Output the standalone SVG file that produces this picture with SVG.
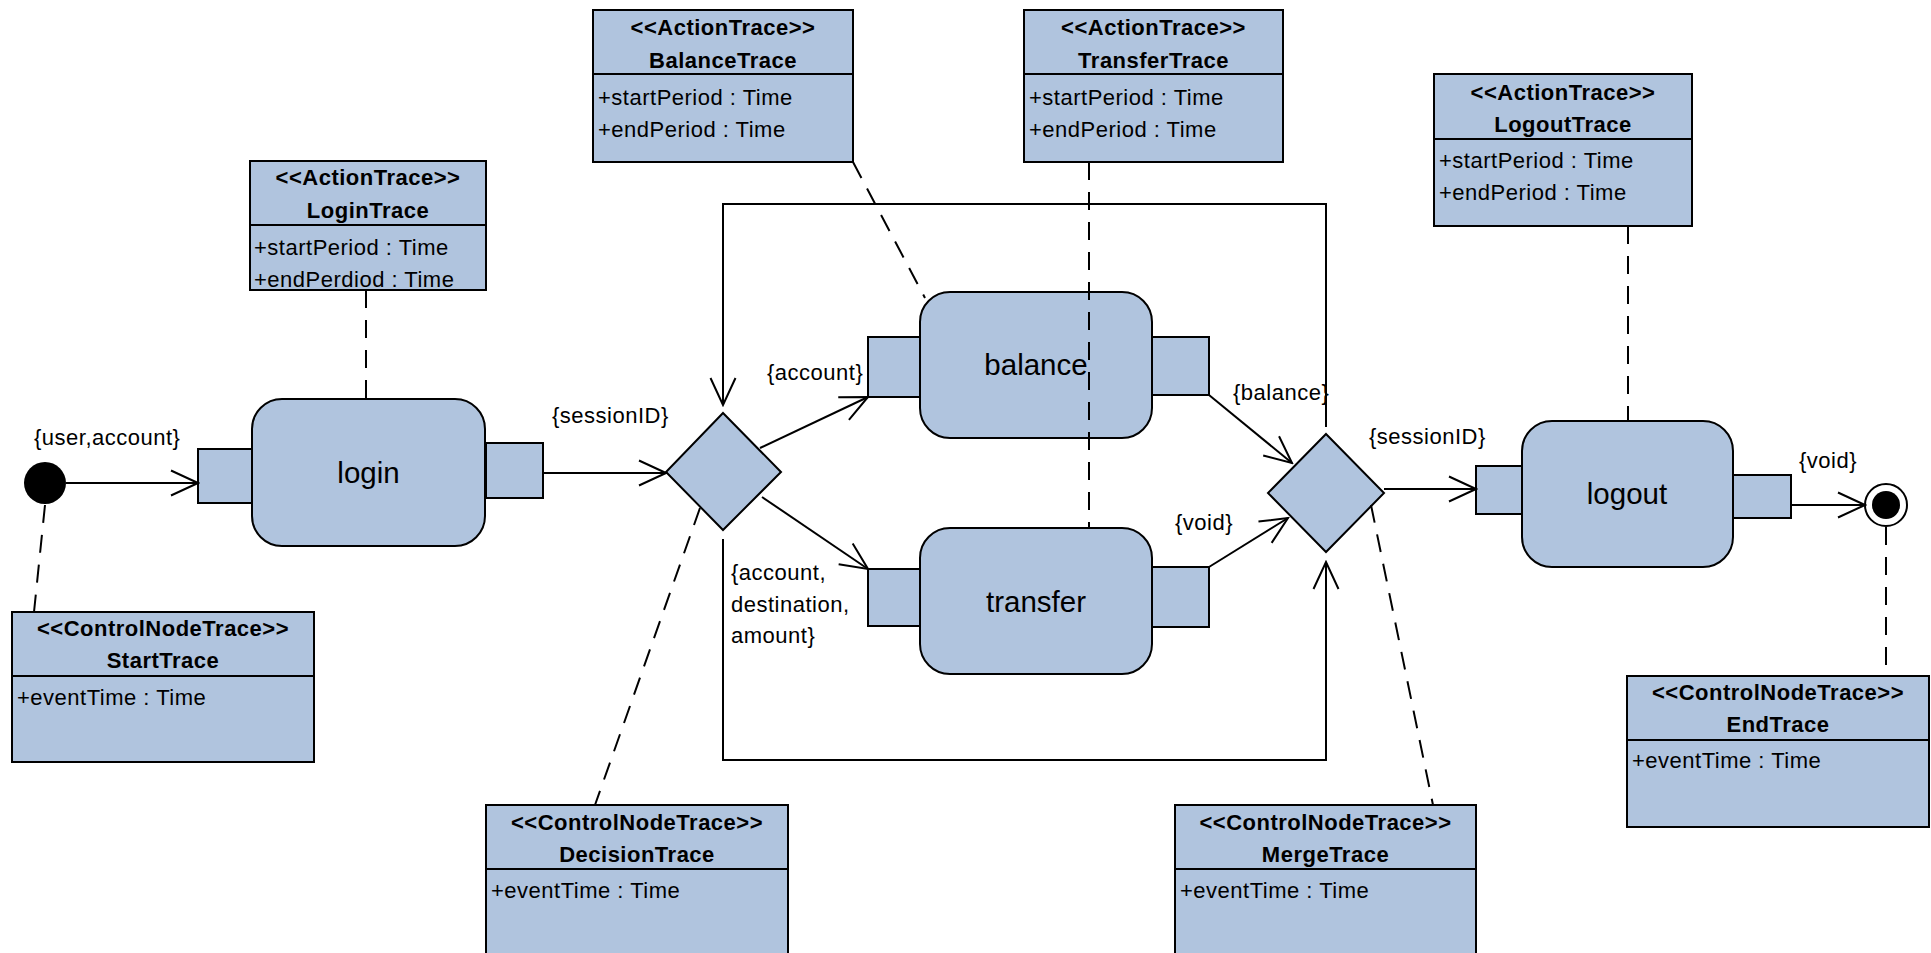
<svg xmlns="http://www.w3.org/2000/svg" width="1931" height="953" viewBox="0 0 1931 953">
<style>
.box{fill:#B0C4DE;stroke:#000;stroke-width:2}
.div{stroke:#000;stroke-width:2}
.t{font-family:"Liberation Sans",Arial,sans-serif;font-size:22px;letter-spacing:0.5px;fill:#000}
.b{font-weight:bold;text-anchor:middle}
.act{font-family:"Liberation Sans",Arial,sans-serif;font-size:29.5px;text-anchor:middle;fill:#000}
.c{fill:none;stroke:#000;stroke-width:2}
.d{fill:none;stroke:#000;stroke-width:2;stroke-dasharray:18 12}
</style>
<defs>
<marker id="arr" markerUnits="userSpaceOnUse" viewBox="0 0 30 28" refX="28" refY="14" markerWidth="30" markerHeight="28" orient="auto">
<path d="M1,1.5 L28,14 L1,26.5" fill="none" stroke="#000" stroke-width="2"/>
</marker>
</defs>
<rect width="1931" height="953" fill="#fff"/>

<g id="LoginTrace">
<rect class="box" x="250" y="161" width="236" height="129"/>
<line class="div" x1="250" y1="225" x2="486" y2="225"/>
<text class="t b" x="368" y="185">&lt;&lt;ActionTrace&gt;&gt;</text>
<text class="t b" x="368" y="218">LoginTrace</text>
<text class="t" x="254" y="255">+startPeriod : Time</text>
<text class="t" x="254" y="287">+endPerdiod : Time</text>
</g>

<g id="BalanceTrace">
<rect class="box" x="593" y="10" width="260" height="152"/>
<line class="div" x1="593" y1="74" x2="853" y2="74"/>
<text class="t b" x="723" y="35">&lt;&lt;ActionTrace&gt;&gt;</text>
<text class="t b" x="723" y="68">BalanceTrace</text>
<text class="t" x="598" y="105">+startPeriod : Time</text>
<text class="t" x="598" y="137">+endPeriod : Time</text>
</g>

<g id="TransferTrace">
<rect class="box" x="1024" y="10" width="259" height="152"/>
<line class="div" x1="1024" y1="74" x2="1283" y2="74"/>
<text class="t b" x="1153.5" y="35">&lt;&lt;ActionTrace&gt;&gt;</text>
<text class="t b" x="1153.5" y="68">TransferTrace</text>
<text class="t" x="1029" y="105">+startPeriod : Time</text>
<text class="t" x="1029" y="137">+endPeriod : Time</text>
</g>

<g id="LogoutTrace">
<rect class="box" x="1434" y="74" width="258" height="152"/>
<line class="div" x1="1434" y1="139" x2="1692" y2="139"/>
<text class="t b" x="1563" y="100">&lt;&lt;ActionTrace&gt;&gt;</text>
<text class="t b" x="1563" y="132">LogoutTrace</text>
<text class="t" x="1439" y="168">+startPeriod : Time</text>
<text class="t" x="1439" y="200">+endPeriod : Time</text>
</g>

<g id="StartTrace">
<rect class="box" x="12" y="612" width="302" height="150"/>
<line class="div" x1="12" y1="676" x2="314" y2="676"/>
<text class="t b" x="163" y="636">&lt;&lt;ControlNodeTrace&gt;&gt;</text>
<text class="t b" x="163" y="668">StartTrace</text>
<text class="t" x="17" y="705">+eventTime : Time</text>
</g>

<g id="DecisionTrace">
<rect class="box" x="486" y="805" width="302" height="160"/>
<line class="div" x1="486" y1="869" x2="788" y2="869"/>
<text class="t b" x="637" y="830">&lt;&lt;ControlNodeTrace&gt;&gt;</text>
<text class="t b" x="637" y="862">DecisionTrace</text>
<text class="t" x="491" y="898">+eventTime : Time</text>
</g>

<g id="MergeTrace">
<rect class="box" x="1175" y="805" width="301" height="160"/>
<line class="div" x1="1175" y1="869" x2="1476" y2="869"/>
<text class="t b" x="1325.5" y="830">&lt;&lt;ControlNodeTrace&gt;&gt;</text>
<text class="t b" x="1325.5" y="862">MergeTrace</text>
<text class="t" x="1180" y="898">+eventTime : Time</text>
</g>

<g id="EndTrace">
<rect class="box" x="1627" y="676" width="302" height="151"/>
<line class="div" x1="1627" y1="740" x2="1929" y2="740"/>
<text class="t b" x="1778" y="700">&lt;&lt;ControlNodeTrace&gt;&gt;</text>
<text class="t b" x="1778" y="732">EndTrace</text>
<text class="t" x="1632" y="768">+eventTime : Time</text>
</g>

<g id="start">
<circle cx="45" cy="483" r="21" fill="#000"/>
</g>

<g id="login">
<rect class="box" x="198" y="449" width="54" height="54"/>
<rect class="box" x="486" y="443" width="57" height="55"/>
<rect class="box" x="252" y="399" width="233" height="147" rx="30" ry="30"/>
<text class="act" x="368.5" y="483">login</text>
</g>

<g id="decision">
<polygon class="box" points="723,413 781,472 723,530 666,472"/>
</g>

<g id="balance">
<rect class="box" x="868" y="337" width="52" height="60"/>
<rect class="box" x="1152" y="337" width="57" height="58"/>
<rect class="box" x="920" y="292" width="232" height="146" rx="30" ry="30"/>
<text class="act" x="1036" y="375">balance</text>
</g>

<g id="transfer">
<rect class="box" x="868" y="569" width="52" height="57"/>
<rect class="box" x="1152" y="567" width="57" height="60"/>
<rect class="box" x="920" y="528" width="232" height="146" rx="30" ry="30"/>
<text class="act" x="1036" y="612">transfer</text>
</g>

<g id="merge">
<polygon class="box" points="1326,434 1384,493 1326,552 1268,493"/>
</g>

<g id="logout">
<rect class="box" x="1476" y="466" width="46" height="48"/>
<rect class="box" x="1733" y="475" width="58" height="43"/>
<rect class="box" x="1522" y="421" width="211" height="146" rx="30" ry="30"/>
<text class="act" x="1627" y="504">logout</text>
</g>

<g id="end">
<circle cx="1886" cy="505" r="21" fill="#fff" stroke="#000" stroke-width="2"/>
<circle cx="1886" cy="505" r="14" fill="#000"/>
</g>

<g id="connectors">
<line class="c" x1="66" y1="483" x2="198" y2="483" marker-end="url(#arr)"/>
<line class="c" x1="543" y1="473" x2="666" y2="473" marker-end="url(#arr)"/>
<line class="c" x1="760" y1="448" x2="868" y2="397" marker-end="url(#arr)"/>
<line class="c" x1="762" y1="497" x2="868" y2="569" marker-end="url(#arr)"/>
<line class="c" x1="1209" y1="395" x2="1292" y2="463" marker-end="url(#arr)"/>
<line class="c" x1="1209" y1="567" x2="1288" y2="518" marker-end="url(#arr)"/>
<line class="c" x1="1384" y1="489" x2="1476" y2="489" marker-end="url(#arr)"/>
<line class="c" x1="1791" y1="505" x2="1865" y2="505" marker-end="url(#arr)"/>
<polyline class="c" points="1326,427 1326,204 723,204 723,405" marker-end="url(#arr)"/>
<polyline class="c" points="723,539 723,760 1326,760 1326,562" marker-end="url(#arr)"/>
<line class="d" x1="366" y1="290" x2="366" y2="399"/>
<line class="d" x1="45" y1="505" x2="34" y2="612"/>
<line class="d" x1="853" y1="162" x2="925" y2="298"/>
<line class="d" x1="1089" y1="162" x2="1089" y2="528"/>
<line class="d" x1="1628" y1="226" x2="1628" y2="421"/>
<line class="d" x1="700" y1="508" x2="595" y2="805"/>
<line class="d" x1="1371" y1="505" x2="1433" y2="805"/>
<line class="d" x1="1886" y1="527" x2="1886" y2="676"/>
</g>

<g id="labels">
<text class="t" x="34" y="445">{user,account}</text>
<text class="t" x="552" y="423">{sessionID}</text>
<text class="t" x="767" y="380">{account}</text>
<text class="t" x="1233" y="400">{balance}</text>
<text class="t" x="1175" y="530">{void}</text>
<text class="t" x="731" y="580">{account,</text>
<text class="t" x="731" y="612">destination,</text>
<text class="t" x="731" y="643">amount}</text>
<text class="t" x="1369" y="444">{sessionID}</text>
<text class="t" x="1799" y="468">{void}</text>
</g>
</svg>
